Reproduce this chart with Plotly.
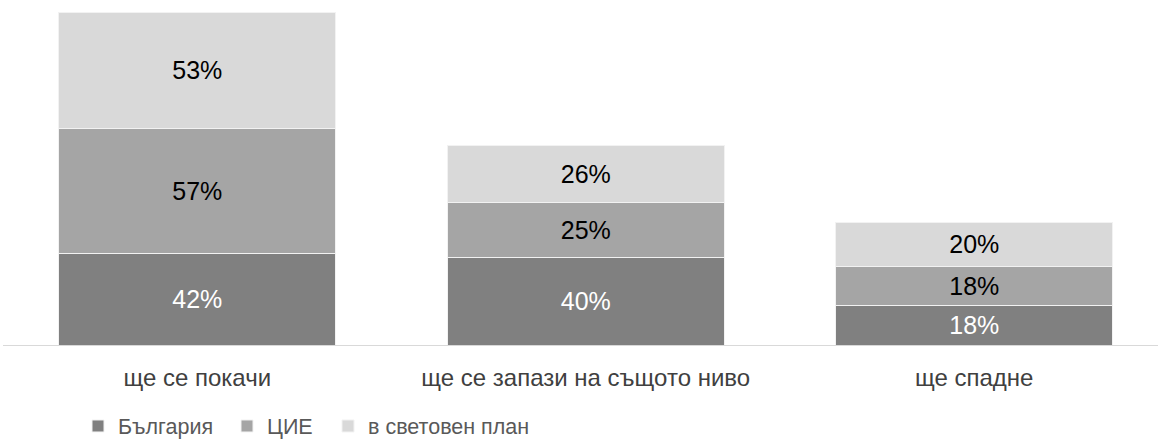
import plotly.graph_objects as go

categories = ["ще се покачи", "ще се запази на същото ниво", "ще спадне"]
series_names = ["България", "ЦИЕ", "в световен план"]
bulgaria = [42, 40, 18]
cee = [57, 25, 18]
world = [53, 26, 20]

colors = ["#808080", "#a5a5a5", "#d9d9d9"]
label_colors = ["#ffffff", "#000000", "#000000"]
legend_ids = ["legend", "legend2", "legend3"]

FONT = "Liberation Sans, Arial, sans-serif"

fig = go.Figure()
for name, vals, col, tcol, lg in zip(series_names, [bulgaria, cee, world],
                                     colors, label_colors, legend_ids):
    fig.add_trace(go.Bar(
        name=name,
        x=categories,
        y=vals,
        marker=dict(color=col, line=dict(color="#f2f2f2", width=1)),
        texttemplate="%{y}%",
        textposition="inside",
        insidetextanchor="middle",
        textangle=0,
        constraintext="none",
        textfont=dict(family=FONT, size=25, color=tcol),
        legend=lg,
        hoverinfo="skip",
    ))

W, H = 1158, 441
ml, mr, mt, mb = 3, 0, 0, 96


def legend_at(text_left_px):
    # one-item legend placed so its label starts at text_left_px
    return dict(
        x=(text_left_px - 40) / W,
        xref="container",
        xanchor="left",
        y=(H - 426) / H,
        yref="container",
        yanchor="middle",
        orientation="h",
        font=dict(family=FONT, size=21.5, color="#595959"),
        bgcolor="rgba(0,0,0,0)",
        borderwidth=0,
    )


fig.update_layout(
    width=W,
    height=H,
    margin=dict(l=ml, r=mr, t=mt, b=mb, autoexpand=False),
    paper_bgcolor="white",
    plot_bgcolor="white",
    barmode="stack",
    bargap=0.287,
    showlegend=True,
    legend=legend_at(118),
    legend2=legend_at(267),
    legend3=legend_at(368),
    xaxis=dict(
        range=[-0.5, 2.473],
        showline=True,
        linecolor="#d9d9d9",
        linewidth=1,
        ticks="",
        showgrid=False,
        automargin=False,
        ticklabelstandoff=11,
        tickfont=dict(family=FONT, size=24, color="#404040"),
    ),
    yaxis=dict(
        range=[0, 157.5],
        visible=False,
        showgrid=False,
    ),
)

fig.write_html("out.html")
